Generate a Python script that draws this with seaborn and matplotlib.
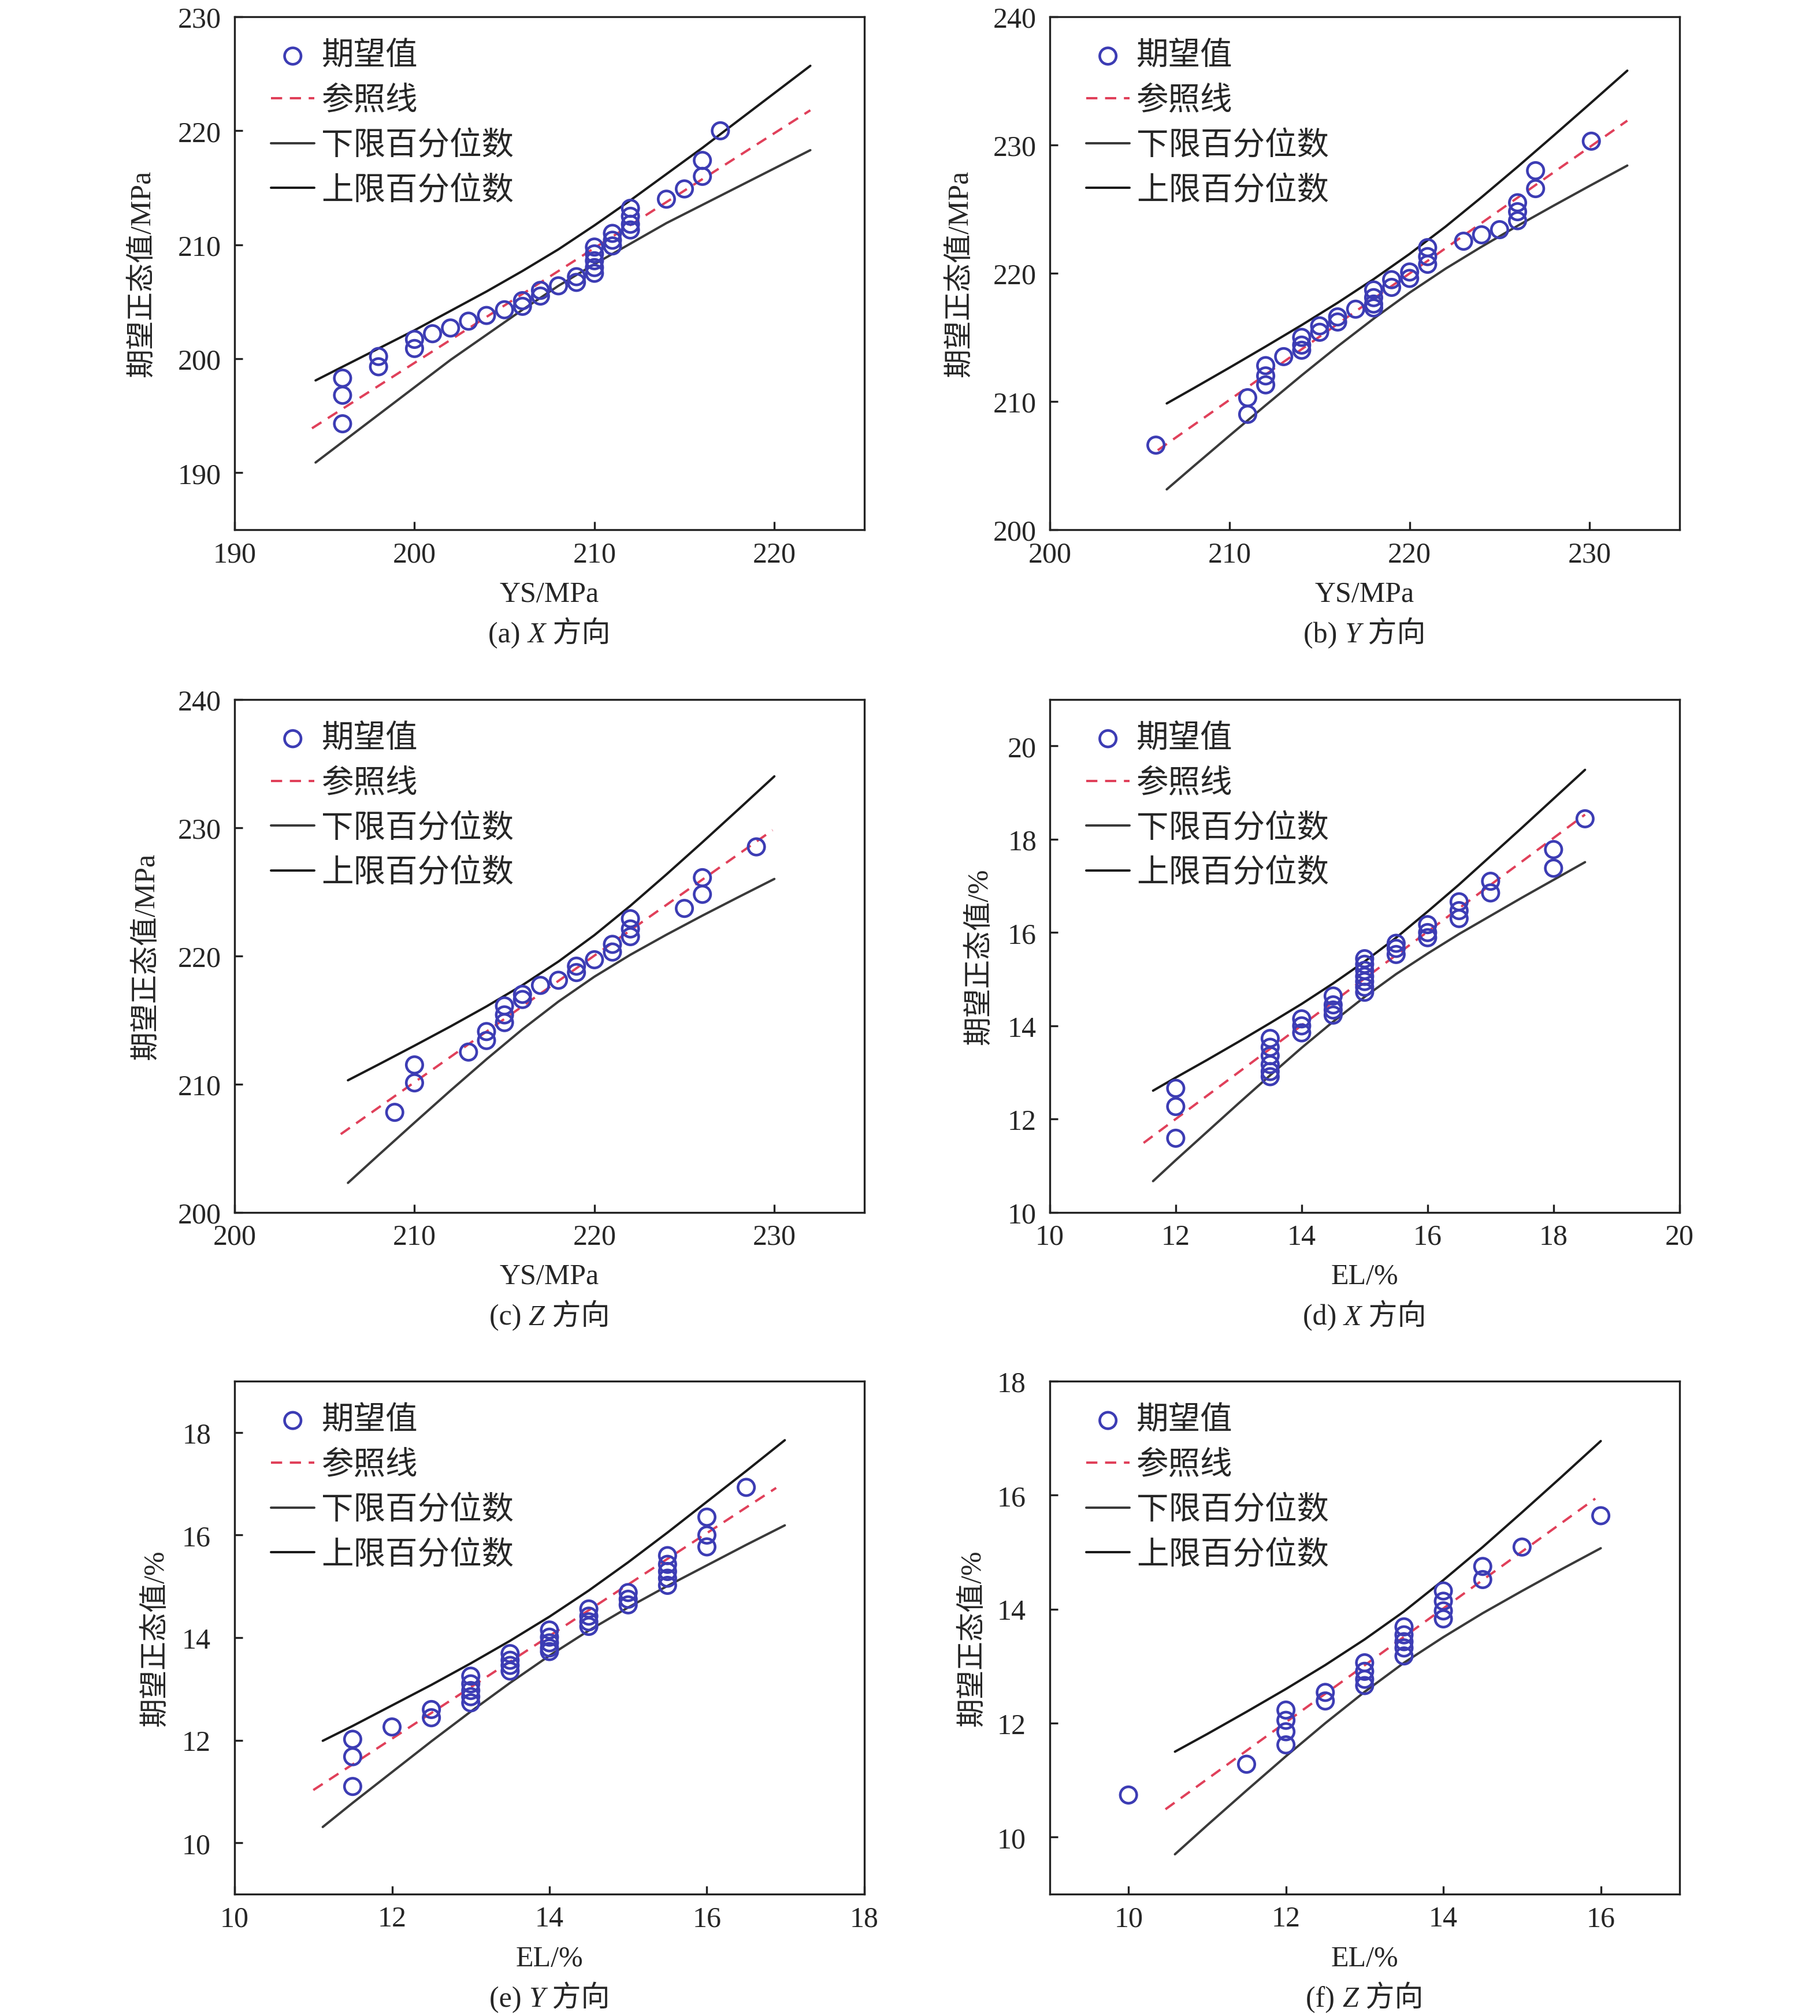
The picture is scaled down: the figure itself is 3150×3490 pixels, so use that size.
import matplotlib
matplotlib.use('Agg')
import matplotlib.pyplot as plt
import seaborn as sns
from matplotlib.offsetbox import TextArea, HPacker, AnchoredOffsetbox

# ---------------- data ----------------
# (a) X方向 YS
a_x = [196, 196, 196, 198, 198, 200, 200, 201, 202, 203, 204, 205, 206, 206, 207, 207, 208, 209, 209,
       210, 210, 210, 210, 210, 211, 211, 211, 212, 212, 212, 212, 214, 215, 216, 216, 217]
a_y = [198.3, 196.8, 194.3, 200.2, 199.3, 201.7, 200.9, 202.2, 202.7, 203.3, 203.8, 204.3, 205.1, 204.6,
       206.0, 205.5, 206.4, 207.2, 206.7, 209.8, 209.2, 208.6, 208.0, 207.5, 211.0, 210.4, 209.9,
       213.2, 212.5, 211.8, 211.3, 214.0, 214.9, 217.4, 216.0, 220.0]
a_ref_x = [194.3, 222.0]
a_ref_y = [193.9, 221.8]
a_band_x = [194.5, 196, 198, 200, 202, 204, 206, 208, 210, 212, 214, 216, 218, 220, 222]
a_upper = [198.1, 199.3, 200.9, 202.5, 204.2, 205.9, 207.7, 209.6, 211.7, 213.9, 216.2, 218.5, 220.9, 223.3, 225.7]
a_lower = [190.9, 192.7, 195.1, 197.5, 199.9, 202.1, 204.3, 206.4, 208.3, 210.1, 211.9, 213.5, 215.1, 216.7, 218.3]

# (b) Y方向 YS
b_x = [205.9, 211, 211, 212, 212, 212, 213, 214, 214, 214, 215, 215, 216, 216, 217, 218, 218, 218, 218,
       219, 219, 220, 220, 221, 221, 221, 223, 224, 225, 226, 226, 226, 227, 227, 230.1]
b_y = [206.6, 210.3, 209.0, 212.8, 212.0, 211.3, 213.5, 215.0, 214.4, 214.0, 215.9, 215.4, 216.6, 216.2,
       217.2, 218.7, 218.1, 217.6, 217.3, 219.5, 218.9, 220.1, 219.6, 222.0, 221.3, 220.7, 222.5, 223.0,
       223.4, 225.5, 224.8, 224.1, 228.0, 226.6, 230.3]
b_ref_x = [206.0, 232.1]
b_ref_y = [206.2, 231.9]
b_band_x = [206.5, 208, 210, 212, 214, 216, 218, 220, 222, 224, 226, 228, 230, 232.1]
b_upper = [209.85, 211.04, 212.65, 214.29, 215.96, 217.70, 219.54, 221.51, 223.64, 225.93, 228.30,
           230.73, 233.19, 235.8]
b_lower = [203.15, 204.96, 207.35, 209.71, 212.04, 214.30, 216.46, 218.49, 220.36, 222.07, 223.70,
           225.27, 226.81, 228.4]

# (c) Z方向 YS
c_x = [208.9, 210, 210, 213, 214, 214, 215, 215, 215, 216, 216, 217, 218, 219, 219, 220, 221, 221,
       222, 222, 222, 225, 226, 226, 229]
c_y = [207.8, 211.5, 210.1, 212.5, 214.1, 213.4, 216.1, 215.4, 214.8, 217.0, 216.6, 217.7, 218.1, 219.2,
       218.7, 219.7, 220.9, 220.3, 222.9, 222.1, 221.5, 223.7, 226.1, 224.8, 228.5]
c_ref_x = [205.9, 229.9]
c_ref_y = [206.1, 229.8]
c_band_x = [206.3, 208, 210, 212, 214, 216, 218, 220, 222, 224, 226, 228, 230]
c_upper = [210.3, 211.53, 213.0, 214.5, 216.06, 217.72, 219.56, 221.62, 223.91, 226.35, 228.86, 231.42, 234.0]
c_lower = [202.3, 204.47, 207.0, 209.5, 211.94, 214.28, 216.44, 218.38, 220.09, 221.65, 223.14, 224.58, 226.0]

# (d) X方向 EL
d_x = [12, 12, 12, 13.5, 13.5, 13.5, 13.5, 13.5, 13.5, 14, 14, 14, 14.5, 14.5, 14.5, 14.5,
       15, 15, 15, 15, 15, 15, 15, 15.5, 15.5, 15.5, 16, 16, 16, 16.5, 16.5, 16.5, 17, 17, 18, 18, 18.5]
d_y = [12.66, 12.27, 11.59, 13.73, 13.54, 13.36, 13.17, 13.02, 12.91, 14.15, 14.0, 13.85,
       14.64, 14.45, 14.34, 14.23, 15.44, 15.32, 15.19, 15.06, 14.95, 14.83, 14.72,
       15.77, 15.66, 15.53, 16.17, 16.0, 15.89, 16.66, 16.47, 16.30, 17.10, 16.85, 17.78, 17.38, 18.44]
d_ref_x = [11.49, 18.5]
d_ref_y = [11.49, 18.53]
d_band_x = [11.64, 12, 12.5, 13, 13.5, 14, 14.5, 15, 15.5, 16, 16.5, 17, 17.5, 18, 18.5]
d_upper = [12.61, 12.89, 13.27, 13.66, 14.06, 14.47, 14.91, 15.38, 15.89, 16.45, 17.03, 17.64, 18.25,
           18.87, 19.49]
d_lower = [10.67, 11.12, 11.73, 12.34, 12.94, 13.53, 14.09, 14.62, 15.11, 15.55, 15.97, 16.36, 16.75,
           17.13, 17.51]

# (e) Y方向 EL
e_x = [11.5, 11.5, 11.5, 12, 12.5, 12.5, 13, 13, 13, 13, 13, 13.5, 13.5, 13.5, 13.5,
       14, 14, 14, 14, 14, 14.5, 14.5, 14.5, 14.5, 15, 15, 15, 15.5, 15.5, 15.5, 15.5, 15.5,
       16, 16, 16, 16.5]
e_y = [12.02, 11.68, 11.10, 12.26, 12.60, 12.44, 13.25, 13.10, 12.97, 12.85, 12.73,
       13.69, 13.56, 13.46, 13.35, 14.15, 14.01, 13.90, 13.80, 13.73, 14.56, 14.42, 14.31, 14.22,
       14.88, 14.75, 14.64, 15.60, 15.43, 15.29, 15.16, 15.02, 16.35, 16.00, 15.77, 16.93]
e_ref_x = [11.0, 16.88]
e_ref_y = [11.03, 16.92]
e_band_x = [11.12, 11.5, 12, 12.5, 13, 13.5, 14, 14.5, 15, 15.5, 16, 16.5, 16.99]
e_upper = [11.99, 12.28, 12.68, 13.08, 13.50, 13.94, 14.41, 14.92, 15.47, 16.05, 16.65, 17.25, 17.85]
e_lower = [10.31, 10.78, 11.38, 11.98, 12.56, 13.12, 13.65, 14.14, 14.59, 15.01, 15.41, 15.81, 16.19]

# (f) Z方向 EL
f_x = [10, 11.5, 12, 12, 12, 12, 12.5, 12.5, 13, 13, 13, 13, 13.5, 13.5, 13.5, 13.5, 13.5,
       14, 14, 14, 14, 14.5, 14.5, 15, 16]
f_y = [10.74, 11.28, 12.23, 12.05, 11.85, 11.62, 12.54, 12.39, 13.06, 12.91, 12.77, 12.66,
       13.69, 13.55, 13.43, 13.32, 13.18, 14.32, 14.14, 13.97, 13.83, 14.75, 14.52, 15.09, 15.64]
f_ref_x = [10.47, 15.93]
f_ref_y = [10.49, 15.94]
f_band_x = [10.59, 11, 11.5, 12, 12.5, 13, 13.5, 14, 14.5, 15, 15.5, 16]
f_upper = [11.50, 11.81, 12.20, 12.60, 13.02, 13.47, 13.96, 14.51, 15.09, 15.70, 16.32, 16.95]
f_lower = [9.70, 10.21, 10.82, 11.42, 12.00, 12.55, 13.06, 13.51, 13.93, 14.32, 14.70, 15.07]

legend_labels = ['期望值', '参照线', '下限百分位数', '上限百分位数']

# ---------------- style ----------------
sns.set_style('ticks')
cjk = ['Liberation Serif', 'Noto Sans CJK SC']
plt.rcParams['font.family'] = cjk
plt.rcParams['axes.unicode_minus'] = False

BLUE = '#3c3cb4'
RED = '#e0405a'
FS = 36

fig = plt.figure(figsize=(31.5, 34.91), dpi=100)

col_left = [0.1289, 0.5768]
row_bottom = [0.7370, 0.3985, 0.0604]
W, H = 0.3460, 0.2544

panels = [
    # data, ref, band, xlim, xticks, ylim, yticks, xlabel, ylabel, tag, dir, ytick pad, ylabel x
    (a_x, a_y, a_ref_x, a_ref_y, a_band_x, a_upper, a_lower, (190, 225), [190, 200, 210, 220],
     (185, 230), [190, 200, 210, 220, 230], 'YS/MPa', '期望正态值/MPa', 'a', 'X', 16.5, -0.125),
    (b_x, b_y, b_ref_x, b_ref_y, b_band_x, b_upper, b_lower, (200, 235), [200, 210, 220, 230],
     (200, 240), [200, 210, 220, 230, 240], 'YS/MPa', '期望正态值/MPa', 'b', 'Y', 16.5, -0.121),
    (c_x, c_y, c_ref_x, c_ref_y, c_band_x, c_upper, c_lower, (200, 235), [200, 210, 220, 230],
     (200, 240), [200, 210, 220, 230, 240], 'YS/MPa', '期望正态值/MPa', 'c', 'Z', 16.5, -0.119),
    (d_x, d_y, d_ref_x, d_ref_y, d_band_x, d_upper, d_lower, (10, 20), [10, 12, 14, 16, 18, 20],
     (10, 21), [10, 12, 14, 16, 18, 20], 'EL/%', '期望正态值/%', 'd', 'X', 16.5, -0.090),
    (e_x, e_y, e_ref_x, e_ref_y, e_band_x, e_upper, e_lower, (10, 18), [10, 12, 14, 16, 18],
     (9, 19), [10, 12, 14, 16, 18], 'EL/%', '期望正态值/%', 'e', 'Y', 29.5, -0.104),
    (f_x, f_y, f_ref_x, f_ref_y, f_band_x, f_upper, f_lower, (9, 17), [10, 12, 14, 16],
     (9, 18), [10, 12, 14, 16, 18], 'EL/%', '期望正态值/%', 'f', 'Z', 29.5, -0.101),
]

for i, p in enumerate(panels):
    (px, py, rx, ry, bx, bu, bl, xlim, xticks, ylim, yticks,
     xlab, ylab, tag, direc, ypad, ylab_x) = p
    ax = fig.add_axes([col_left[i % 2], row_bottom[i // 2], W, H])

    # 参照线 / 上下限 / 期望值
    sns.lineplot(x=rx, y=ry, ax=ax, color=RED, linewidth=2.9,
                 linestyle=(0, (4.8, 3.3)), label=legend_labels[1], errorbar=None, legend=False)
    sns.lineplot(x=bx, y=bl, ax=ax, color='#3a3a3a', linewidth=2.9,
                 label=legend_labels[2], errorbar=None, legend=False)
    sns.lineplot(x=bx, y=bu, ax=ax, color='#1a1a1a', linewidth=2.9,
                 label=legend_labels[3], errorbar=None, legend=False)
    sns.scatterplot(x=px, y=py, ax=ax, color=BLUE, facecolor='none', edgecolor=BLUE,
                    linewidth=3.3, s=420, marker='o', label=legend_labels[0], legend=False, zorder=3)

    ax.set_xlim(*xlim)
    ax.set_ylim(*ylim)
    ax.set_xticks(xticks)
    ax.set_yticks(yticks)
    ax.tick_params(axis='both', direction='in', length=10, width=2.4, labelsize=FS, color='#222222')
    ax.tick_params(axis='x', pad=14)
    ax.tick_params(axis='y', pad=ypad)
    for sp in ax.spines.values():
        sp.set_linewidth(2.4)
        sp.set_color('#222222')

    ax.set_xlabel(xlab, fontsize=FS)
    ax.xaxis.set_label_coords(0.5, -0.099)
    ax.set_ylabel(ylab, fontsize=FS)
    ax.yaxis.set_label_coords(ylab_x, 0.5)

    # legend, ordered like the original
    handles, labels = ax.get_legend_handles_labels()
    hmap = dict(zip(labels, handles))
    ax.legend([hmap[l] for l in legend_labels], legend_labels, loc='upper left',
              bbox_to_anchor=(0.058, 0.952), frameon=False, fontsize=40,
              handlelength=1.35, handletextpad=0.22, labelspacing=0.46,
              borderaxespad=0, borderpad=0, scatterpoints=1)

    # caption "(a) X 方向" with italic axis letter
    parts = [TextArea('(%s) ' % tag, textprops=dict(size=FS, family=cjk)),
             TextArea(direc, textprops=dict(size=FS, family='Liberation Serif', style='italic')),
             TextArea(' 方向', textprops=dict(size=FS, family=cjk))]
    box = HPacker(children=parts, align='baseline', pad=0, sep=0)
    cap = AnchoredOffsetbox(loc='center', child=box, pad=0, borderpad=0, frameon=False,
                            bbox_to_anchor=(0.5, -0.204), bbox_transform=ax.transAxes)
    ax.add_artist(cap)

fig.savefig('out.png', dpi=100)
